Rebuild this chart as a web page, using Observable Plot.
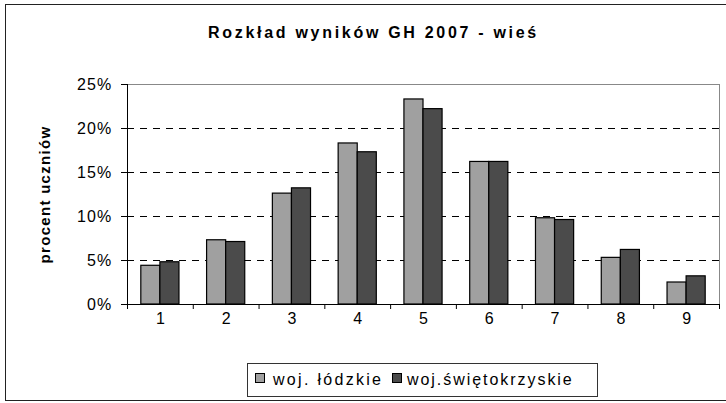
<!DOCTYPE html>
<html>
<head>
<meta charset="utf-8">
<script src="https://cdn.jsdelivr.net/npm/d3@7"></script>
<script src="https://cdn.jsdelivr.net/npm/@observablehq/plot@0.6"></script>
<style>
  html, body { margin: 0; padding: 0; background: #fff; overflow: hidden; }
  #wrap { position: relative; width: 726px; height: 403px; font-family: "Liberation Sans", Arial, sans-serif; }
  #border { position: absolute; left: 5px; top: 4px; width: 740px; height: 397px; border: 1px solid #222; box-sizing: border-box; pointer-events: none; }
  #legend { position: absolute; left: 247px; top: 363px; width: 351px; height: 34px; border: 1px solid #333; box-sizing: border-box;
            font-size: 16px; color: #000; background: #fff; }
  .sw { position: absolute; top: 9px; width: 8px; height: 8px; border: 1px solid #000; }
  .lt { position: absolute; top: 0; line-height: 32px; white-space: nowrap; }
</style>
</head>
<body>
<div id="wrap">
  <div id="chart"></div>
  <div id="legend"></div>
  <div id="border"></div>
</div>
<script>
const title = "Rozkład wyników GH 2007 - wieś";
const yLabel = "procent uczniów";
const groups = [1, 2, 3, 4, 5, 6, 7, 8, 9];
const seriesNames = ["woj. łódzkie", "woj.świętokrzyskie"];
const lodzkie = [0.044, 0.073, 0.126, 0.183, 0.233, 0.162, 0.098, 0.053, 0.025];
const swietokrzyskie = [0.048, 0.071, 0.132, 0.173, 0.222, 0.162, 0.096, 0.062, 0.032];
const yTicks = [0, 0.05, 0.10, 0.15, 0.20, 0.25];
const colors = ["#a0a0a0", "#4b4b4b"];

const data = [];
groups.forEach((g, i) => {
  data.push({group: g, series: seriesNames[0], value: lodzkie[i]});
  data.push({group: g, series: seriesNames[1], value: swietokrzyskie[i]});
});

const half = 0.29;
const boundaries = d3.range(groups[0] - 0.5, groups[groups.length - 1] + 1, 1);
const pct = d3.format(".0%");

const chart = Plot.plot({
  width: 726,
  height: 403,
  marginLeft: 127,
  marginRight: 7,
  marginTop: 84,
  marginBottom: 99,
  style: {fontFamily: "Liberation Sans, Arial, sans-serif", fontSize: "16px", color: "#000", background: "#fff"},
  x: {domain: [0.5, 9.5], axis: null},
  y: {domain: [0, 0.25], axis: null},
  color: {domain: seriesNames, range: colors},
  marks: [
    Plot.gridY([0.05, 0.10, 0.15, 0.20], {stroke: "#000", strokeOpacity: 1, strokeDasharray: "7,6"}),
    Plot.ruleY([0.25], {stroke: "#888"}),
    Plot.ruleX([9.5], {stroke: "#888"}),
    Plot.rectY(data, {
      x1: d => d.series === seriesNames[0] ? d.group - half : d.group,
      x2: d => d.series === seriesNames[0] ? d.group : d.group + half,
      y1: 0,
      y2: "value",
      fill: "series",
      stroke: "#000",
      strokeWidth: 1.2
    }),
    Plot.axisY({ticks: yTicks, tickFormat: pct, tickSize: 6, tickPadding: 9, label: null, fontSize: 16}),
    Plot.axisX({ticks: boundaries, tickFormat: () => "", tickSize: 5, label: null}),
    Plot.axisX({ticks: groups, tickSize: 0, tickPadding: 8, label: null, fontSize: 16}),
    Plot.ruleX([0.5], {stroke: "#000"}),
    Plot.ruleY([0], {stroke: "#000"}),
    Plot.text([title], {frameAnchor: "top", dx: -50, dy: -58, fontWeight: "bold", fontSize: 16}),
    Plot.text([yLabel], {frameAnchor: "left", dx: -82, rotate: -90, textAnchor: "middle", fontWeight: "bold", fontSize: 15})
  ]
});
document.getElementById("chart").appendChild(chart);

// letter spacing to mimic the wide spreadsheet rendering
const yTickLabels = new Set(yTicks.map(pct));
d3.select(chart).selectAll("text").each(function() {
  const t = this.textContent;
  if (t === title) this.style.letterSpacing = "2.7px";
  else if (t === yLabel) this.style.letterSpacing = "1.3px";
  else if (yTickLabels.has(t)) this.style.letterSpacing = "1.2px";
});

const legend = document.getElementById("legend");
const swLeft = [7, 144], txtLeft = [25, 159], spacing = ["2.3px", "1.95px"];
seriesNames.forEach((name, i) => {
  const sw = document.createElement("span");
  sw.className = "sw";
  sw.style.background = colors[i];
  sw.style.left = swLeft[i] + "px";
  legend.appendChild(sw);
  const t = document.createElement("span");
  t.className = "lt";
  t.textContent = name;
  t.style.left = txtLeft[i] + "px";
  t.style.letterSpacing = spacing[i];
  legend.appendChild(t);
});
</script>
</body>
</html>
